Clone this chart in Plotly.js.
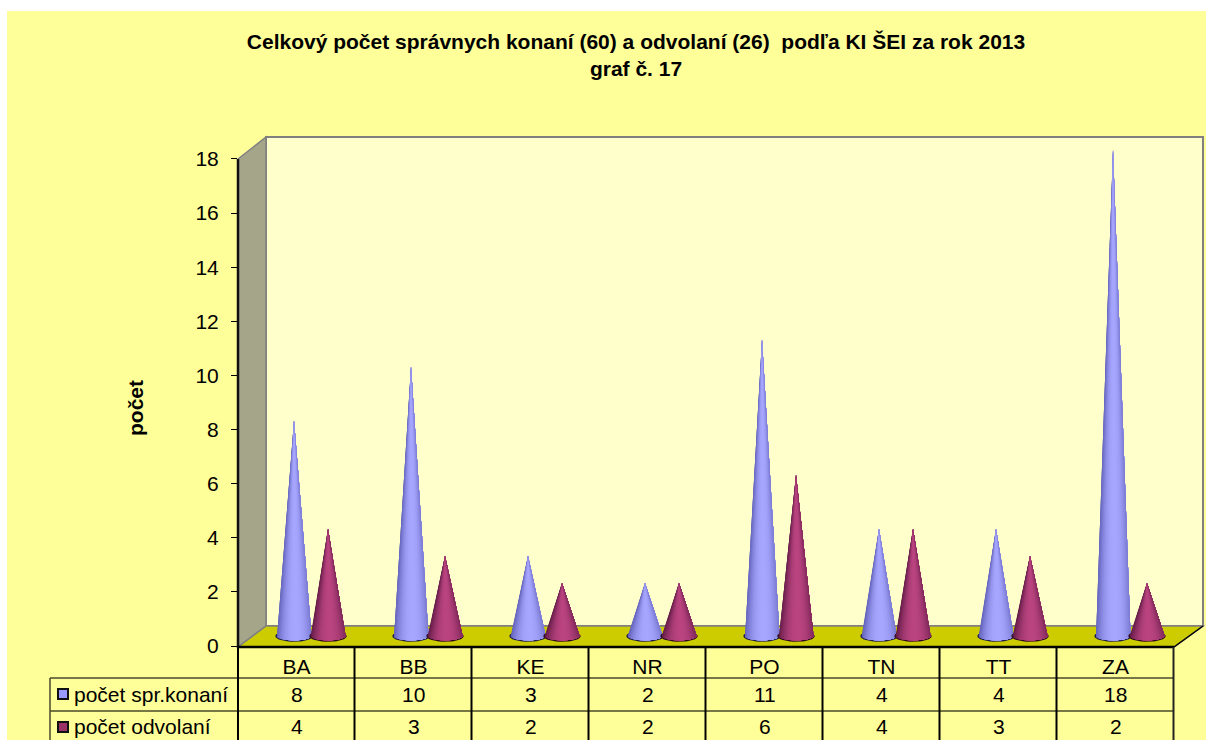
<!DOCTYPE html>
<html>
<head>
<meta charset="utf-8">
<script src="https://cdn.plot.ly/plotly-3.0.1.min.js"></script>
<style>
html,body{margin:0;padding:0;background:#fff;overflow:hidden}
#chart{position:absolute;left:7px;top:11px;width:1199px;height:729px}
</style>
</head>
<body>
<div id="chart"></div>
<script>
const categories = ["BA","BB","KE","NR","PO","TN","TT","ZA"];
const konania = [8,10,3,2,11,4,4,18];
const odvolania = [4,3,2,2,6,4,3,2];
const nameKonania = "počet spr.konaní";
const nameOdvolania = "počet odvolaní";
const yTicks = [0,2,4,6,8,10,12,14,16,18];
const titleText = "<b>Celkový počet správnych konaní (60) a odvolaní (26) \u00a0podľa KI ŠEI za rok 2013<br>graf č. 17</b>";
const yTitle = "počet";

const FONT = "Liberation Sans, Arial, sans-serif";
// plot frame in page pixels
const L=238, R=1203, T=137, B=646, CATW=117, UNIT=27.06;
const px = x => (x-L)/(R-L), py = y => (B-y)/(B-T);
// cone geometry in axis units
const DEPTH_X=14.5/CATW, SPREAD=17/CATW, HW=17.5/CATW, APEX=9/UNIT, BASE=10.5/UNIT, EH=5/UNIT;
const N=24;

function hex(c){return [1,3,5].map(i=>parseInt(c.substr(i,2),16));}
function mix(a,b,t){const A=hex(a),B=hex(b);return "rgb("+A.map((v,i)=>Math.round(v+(B[i]-v)*t)).join(",")+")";}

const traces=[];
function addSeries(values,sign,edge,mid,ring){
  // dark ring under each base
  const rx=[],ry=[];
  values.forEach((v,i)=>{
    const cx=i+.5+DEPTH_X+sign*SPREAD;
    for(let k=0;k<=40;k++){const a=k/40*2*Math.PI;
      rx.push(cx+HW*1.07*Math.cos(a)); ry.push(BASE-0.02+EH*1.15*Math.sin(a));}
    rx.push(null);ry.push(null);
  });
  traces.push({x:rx,y:ry,mode:"lines",fill:"toself",fillcolor:ring,line:{width:0,color:ring},hoverinfo:"skip",showlegend:false});
  // each shade covers the rest of the cone, so the next shade paints over it without seams
  for(let s=0;s<N;s++){
    const a0=Math.PI+s/N*Math.PI, a1=Math.PI+(s+1)/N*Math.PI;
    const xs=[],ys=[];
    values.forEach((v,i)=>{
      const cx=i+.5+DEPTH_X+sign*SPREAD;
      xs.push(cx);ys.push(v+APEX);
      for(let k=s;k<=N;k++){const a=Math.PI+k/N*Math.PI;
        xs.push(cx+HW*Math.cos(a));ys.push(BASE+EH*Math.sin(a));}
      xs.push(null);ys.push(null);
    });
    const m=(a0+a1)/2, t=Math.pow(Math.abs(Math.cos(m)-0.1)/1.1,2.3);
    const c=mix(mid,edge,t);
    traces.push({x:xs,y:ys,mode:"lines",fill:"toself",fillcolor:c,line:{width:0,color:c},hoverinfo:"skip",showlegend:false});
  }
}
addSeries(konania,-1,"#6060b8","#a6a6ff","#20204a");
addSeries(odvolania,1,"#611a46","#b9447f","#2e0a20");

const GRAY="#808080", LINE="#4a4a2a";
function poly(pts,fill,color,w){
  return {type:"path",xref:"paper",yref:"paper",layer:"below",
    path:"M"+pts.map(p=>px(p[0])+","+py(p[1])).join("L")+"Z",
    fillcolor:fill,line:{color:color,width:w}};
}
function seg(x0,y0,x1,y1,color,w){
  return {type:"line",xref:"paper",yref:"paper",x0:px(x0),x1:px(x1),y0:py(y0),y1:py(y1),line:{color:color,width:w}};
}
const shapes=[
  poly([[266,137],[1203,137],[1203,626],[266,626]],"#ffffcc",GRAY,2),
  poly([[238,159],[266,137],[266,626],[238,647]],"#a5a58a",GRAY,1.5),
  poly([[238,647],[266,626],[1203,626],[1174,647]],"#cccc00",GRAY,1.5),
  seg(238,159,238,647,"#111",2.5),
  seg(238,647,1174,647,"#000",2.5),
  seg(1174,647,1203,626,"#000",1.5),
  seg(50,678,1174,678,LINE,1.5),
  seg(50,711,1174,711,LINE,1.5),
  seg(50,678,50,740,LINE,1.5)
];
for(let i=0;i<=categories.length;i++){
  const x=L+i*CATW-(i?0.5:0);
  shapes.push(seg(x,647,x,740,i==categories.length?"#222":"#000",2));
}
const swatch=(y0,y1,fill)=>({type:"rect",xref:"paper",yref:"paper",x0:px(58),x1:px(68),y0:py(y0),y1:py(y1),fillcolor:fill,line:{color:"#111",width:2}});
shapes.push(swatch(689,699,"#9999ff"),swatch(722,732,"#993366"));

const ann=[];
function rowText(vals,yPix){
  vals.forEach((v,i)=>ann.push({xref:"x",yref:"paper",x:i+.5,y:py(yPix),text:String(v),showarrow:false,xanchor:"center",yanchor:"middle",font:{family:FONT,size:21,color:"#000"}}));
}
rowText(konania,694);
rowText(odvolania,726);
[[nameKonania,694],[nameOdvolania,726]].forEach(r=>ann.push({xref:"paper",yref:"paper",x:px(72),y:py(r[1]),text:r[0],showarrow:false,xanchor:"left",yanchor:"middle",font:{family:FONT,size:21,color:"#000"}}));
ann.push({xref:"paper",yref:"paper",x:px(136),y:py(408),text:"<b>"+yTitle+"</b>",textangle:-90,showarrow:false,xanchor:"center",yanchor:"middle",font:{family:FONT,size:21,color:"#000"}});

const layout={
  width:1199,height:729,
  margin:{l:L-7,r:1206-R,t:T-11,b:740-B,pad:0},
  paper_bgcolor:"#ffff99",plot_bgcolor:"rgba(0,0,0,0)",
  showlegend:false,
  title:{text:titleText,font:{family:FONT,size:21,color:"#000"},xref:"container",yref:"container",x:(636-7)/1199,xanchor:"center",y:1-(49-11)/729,yanchor:"top"},
  xaxis:{range:[0,(R-L)/CATW],tickmode:"array",tickvals:categories.map((c,i)=>i+.5),ticktext:categories,ticks:"",showgrid:false,zeroline:false,showline:false,tickangle:0,tickfont:{family:FONT,size:21,color:"#000"},ticklabelstandoff:6},
  yaxis:{range:[0,(B-T)/UNIT],tickmode:"array",tickvals:yTicks,ticktext:yTicks.map(String),ticks:"outside",ticklen:6,tickwidth:1,tickcolor:"#000",showgrid:false,zeroline:false,showline:false,tickfont:{family:FONT,size:21,color:"#000"},ticklabelstandoff:8},
  shapes:shapes,annotations:ann
};
Plotly.newPlot("chart",traces,layout,{displayModeBar:false,staticPlot:true});
</script>
</body>
</html>
